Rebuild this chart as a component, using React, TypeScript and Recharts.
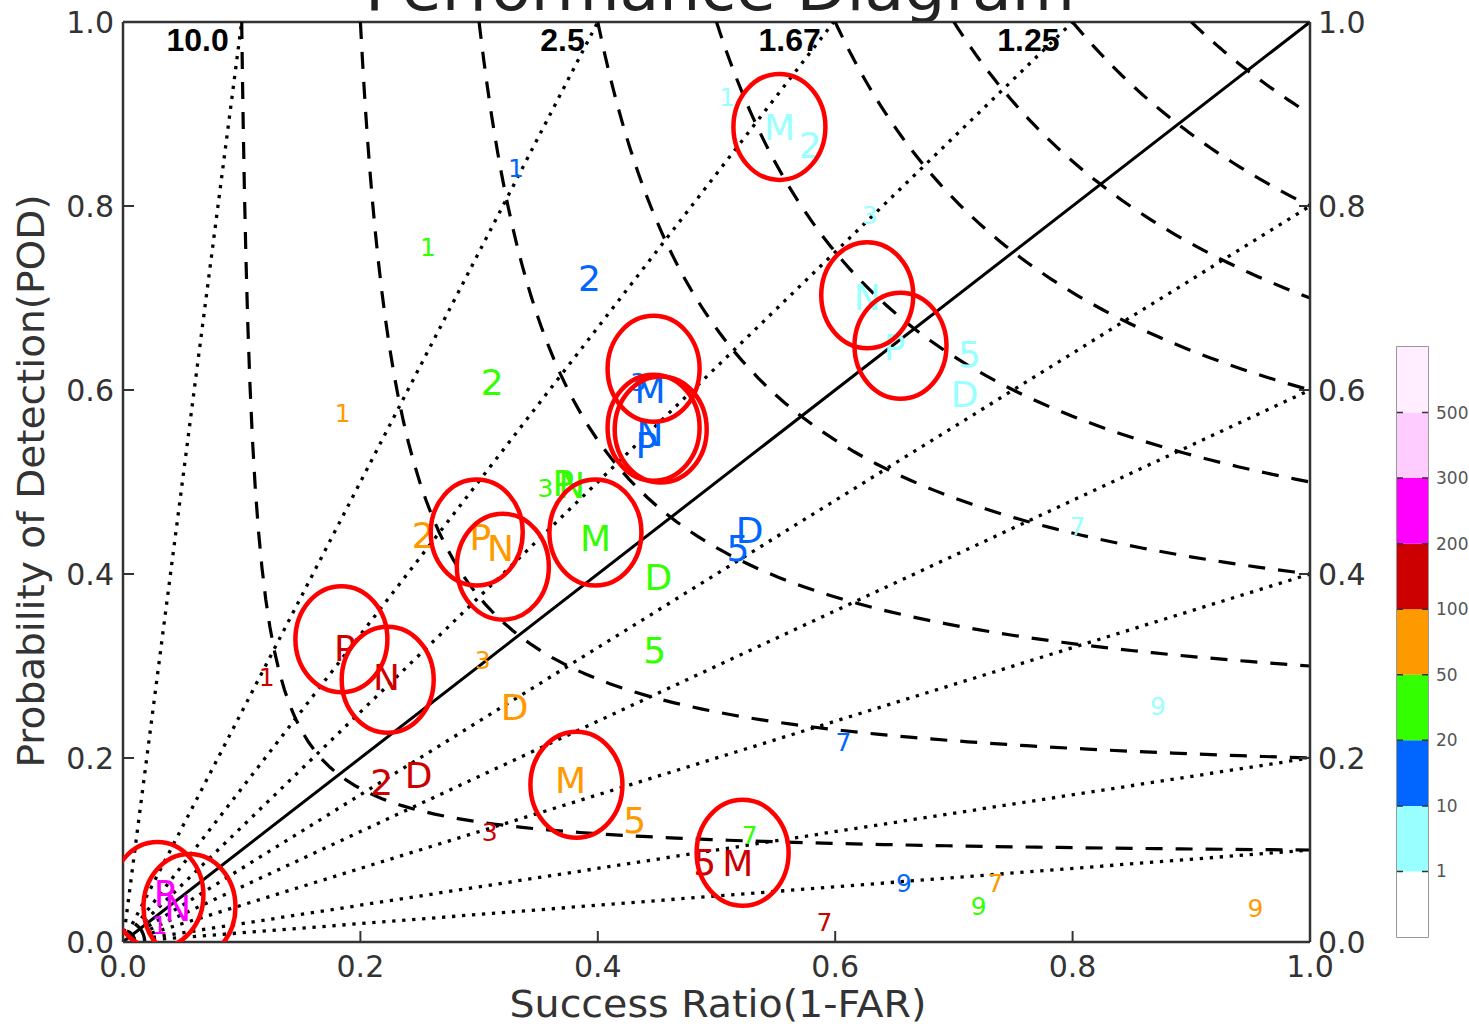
import {
    ComposedChart,
    XAxis,
    YAxis,
    Line,
    Scatter,
    ReferenceLine,
    BarChart,
    Bar,
    ReferenceArea,
} from "recharts"

type Pt = { x: number; y: number; label: string }

// x = success ratio, y = probability of detection
const cyanPoints: Pt[] = [
    { x: 0.509, y: 0.918, label: "1" },
    { x: 0.553, y: 0.886, label: "M" },
    { x: 0.579, y: 0.866, label: "2" },
    { x: 0.629, y: 0.79, label: "3" },
    { x: 0.627, y: 0.701, label: "N" },
    { x: 0.65, y: 0.647, label: "P" },
    { x: 0.713, y: 0.639, label: "5" },
    { x: 0.709, y: 0.596, label: "D" },
    { x: 0.804, y: 0.452, label: "7" },
    { x: 0.872, y: 0.257, label: "9" },
]

const bluePoints: Pt[] = [
    { x: 0.331, y: 0.841, label: "1" },
    { x: 0.393, y: 0.722, label: "2" },
    { x: 0.434, y: 0.609, label: "3" },
    { x: 0.444, y: 0.6, label: "M" },
    { x: 0.441, y: 0.54, label: "P" },
    { x: 0.444, y: 0.553, label: "N" },
    { x: 0.528, y: 0.448, label: "D" },
    { x: 0.518, y: 0.428, label: "5" },
    { x: 0.607, y: 0.217, label: "7" },
    { x: 0.658, y: 0.064, label: "9" },
]

const greenPoints: Pt[] = [
    { x: 0.257, y: 0.755, label: "1" },
    { x: 0.311, y: 0.609, label: "2" },
    { x: 0.356, y: 0.493, label: "3" },
    { x: 0.371, y: 0.499, label: "P" },
    { x: 0.378, y: 0.497, label: "N" },
    { x: 0.398, y: 0.439, label: "M" },
    { x: 0.451, y: 0.397, label: "D" },
    { x: 0.448, y: 0.317, label: "5" },
    { x: 0.528, y: 0.116, label: "7" },
    { x: 0.721, y: 0.039, label: "9" },
]

const orangePoints: Pt[] = [
    { x: 0.185, y: 0.575, label: "1" },
    { x: 0.253, y: 0.442, label: "2" },
    { x: 0.301, y: 0.44, label: "P" },
    { x: 0.318, y: 0.428, label: "N" },
    { x: 0.303, y: 0.307, label: "3" },
    { x: 0.33, y: 0.255, label: "D" },
    { x: 0.377, y: 0.176, label: "M" },
    { x: 0.431, y: 0.133, label: "5" },
    { x: 0.735, y: 0.064, label: "7" },
    { x: 0.954, y: 0.037, label: "9" },
]

const redPoints: Pt[] = [
    { x: 0.121, y: 0.288, label: "1" },
    { x: 0.187, y: 0.32, label: "P" },
    { x: 0.222, y: 0.288, label: "N" },
    { x: 0.218, y: 0.174, label: "2" },
    { x: 0.249, y: 0.182, label: "D" },
    { x: 0.309, y: 0.12, label: "3" },
    { x: 0.49, y: 0.087, label: "5" },
    { x: 0.518, y: 0.086, label: "M" },
    { x: 0.591, y: 0.022, label: "7" },
]

const magentaPoints: Pt[] = [
    { x: 0.035, y: 0.053, label: "P" },
    { x: 0.046, y: 0.037, label: "N" },
    { x: 0.031, y: 0.018, label: "1" },
]

// red circles drawn around highlighted points
const circledPoints = [
    { x: 0.553, y: 0.886 },
    { x: 0.627, y: 0.703 },
    { x: 0.655, y: 0.648 },
    { x: 0.447, y: 0.623 },
    { x: 0.447, y: 0.559 },
    { x: 0.453, y: 0.557 },
    { x: 0.298, y: 0.445 },
    { x: 0.32, y: 0.408 },
    { x: 0.398, y: 0.445 },
    { x: 0.184, y: 0.329 },
    { x: 0.223, y: 0.285 },
    { x: 0.382, y: 0.171 },
    { x: 0.522, y: 0.097 },
    { x: 0.029, y: 0.051 },
    { x: 0.056, y: 0.038 },
]

const biasRatios = [10, 2.5, 1.67, 1.25, 1, 0.8, 0.6, 0.4, 0.2, 0.1]
const biasLabels = ["10.0", "2.5", "1.67", "1.25"]
const csiLevels = [0.1, 0.2, 0.3, 0.4, 0.5, 0.6, 0.7, 0.8, 0.9]
const axisTicks = [0, 0.2, 0.4, 0.6, 0.8, 1]

const colorbarLabels = ["1", "10", "20", "50", "100", "200", "300", "500"]
const colorbarColors = ["#ffffff", "#99ffff", "#0066ff", "#33ff00", "#ff9900", "#cc0000", "#ff00ff", "#ffccff", "#ffeeff"]

const FONT = "'DejaVu Sans', sans-serif"

// bias line from the origin to where it leaves the unit square
const biasLine = (b: number) => [
    { x: 0, y: 0 },
    b >= 1 ? { x: 1 / b, y: 1 } : { x: 1, y: b },
]

// critical success index isoline: 1/CSI = 1/SR + 1/POD - 1
const csiLine = (c: number) =>
    Array.from({ length: 81 }, (_, i) => {
        const t = i / 80
        const sr = c + (1 - c) * t * t
        return { x: sr, y: 1 / (1 / c + 1 - 1 / sr) }
    })

const smallLabels = ["1", "3", "7", "9"]

const markerShape = (color: string) => (props: any) => {
    const { cx, cy, payload } = props
    const fs = smallLabels.includes(payload.label) ? 25 : 36
    return (
        <text x={cx} y={cy + fs * 0.36} textAnchor="middle" fontSize={fs} fill={color} fontFamily={FONT}>
            {payload.label}
        </text>
    )
}

const circleShape = (props: any) => (
    <ellipse cx={props.cx} cy={props.cy} rx={46} ry={53} fill="none" stroke="#ff0000" strokeWidth={4.5} />
)

const biasLabelShape = (props: any) => (
    <text
        x={props.cx - 13}
        y={props.cy + 29}
        textAnchor="end"
        fontSize={32}
        fontWeight="bold"
        fill="#000"
        fontFamily="'Liberation Sans', Arial, sans-serif"
    >
        {props.payload.label}
    </text>
)

const inner = (v: number) => v > 0 && v < 1

const LeftTick = (p: any) => (
    <g>
        {inner(p.payload.value) && <line x1={p.x} y1={p.y} x2={p.x + 11} y2={p.y} stroke="#333" strokeWidth={2} />}
        <text x={p.x - 9} y={p.y + 11} textAnchor="end" fontSize={30} fill="#333" fontFamily={FONT}>
            {p.payload.value.toFixed(1)}
        </text>
    </g>
)

const RightTick = (p: any) => (
    <g>
        {inner(p.payload.value) && <line x1={p.x} y1={p.y} x2={p.x - 11} y2={p.y} stroke="#333" strokeWidth={2} />}
        <text x={p.x + 8} y={p.y + 11} textAnchor="start" fontSize={30} fill="#333" fontFamily={FONT}>
            {p.payload.value.toFixed(1)}
        </text>
    </g>
)

const BottomTick = (p: any) => (
    <g>
        {inner(p.payload.value) && <line x1={p.x} y1={p.y} x2={p.x} y2={p.y - 11} stroke="#333" strokeWidth={2} />}
        <text x={p.x} y={p.y + 35} textAnchor="middle" fontSize={30} fill="#333" fontFamily={FONT}>
            {p.payload.value.toFixed(1)}
        </text>
    </g>
)

const series: [Pt[], string][] = [
    [cyanPoints, "#99ffff"],
    [bluePoints, "#0066ff"],
    [greenPoints, "#33ff00"],
    [orangePoints, "#ff9900"],
    [redPoints, "#cc0000"],
    [magentaPoints, "#ff00ff"],
]

const colorbarRow = [
    colorbarColors.reduce((row, _, i) => ({ ...row, [`s${i}`]: 1 }), { name: "cb" } as Record<string, any>),
]

export default function App() {
    return (
        <div style={{ position: "absolute", left: 0, top: 0, width: 1469, height: 1027, background: "#fff" }}>
            <svg width={1469} height={1027} style={{ position: "absolute", left: 0, top: 0 }}>
                <text x={720} y={10} textAnchor="middle" fontSize={62} fill="#222" fontFamily={FONT} textLength={710} lengthAdjust="spacingAndGlyphs">
                    Performance Diagram
                </text>
                <text x={718} y={1017} textAnchor="middle" fontSize={37} fill="#333" fontFamily={FONT} textLength={417} lengthAdjust="spacingAndGlyphs">
                    Success Ratio(1-FAR)
                </text>
                <text
                    x={44}
                    y={481}
                    transform="rotate(-90 44 481)"
                    textAnchor="middle"
                    fontSize={38}
                    fill="#333"
                    fontFamily={FONT}
                    textLength={573}
                    lengthAdjust="spacingAndGlyphs"
                >
                    Probability of Detection(POD)
                </text>
            </svg>

            <div style={{ position: "absolute", left: 0, top: 0 }}>
                <ComposedChart width={1469} height={1027} margin={{ top: 22, right: 99, bottom: 45, left: 63 }}>
                    <XAxis
                        type="number"
                        dataKey="x"
                        domain={[0, 1]}
                        ticks={axisTicks}
                        interval={0}
                        height={40}
                        tickSize={0}
                        tickMargin={0}
                        tick={BottomTick}
                        allowDataOverflow
                        axisLine={{ stroke: "#333", strokeWidth: 2.5 }}
                    />
                    <YAxis
                        yAxisId="l"
                        type="number"
                        dataKey="y"
                        domain={[0, 1]}
                        ticks={axisTicks}
                        interval={0}
                        width={60}
                        tickSize={0}
                        tickMargin={0}
                        tick={LeftTick}
                        allowDataOverflow
                        axisLine={{ stroke: "#333", strokeWidth: 2.5 }}
                    />
                    <YAxis
                        yAxisId="r"
                        orientation="right"
                        type="number"
                        dataKey="y"
                        domain={[0, 1]}
                        ticks={axisTicks}
                        interval={0}
                        width={60}
                        tickSize={0}
                        tickMargin={0}
                        tick={RightTick}
                        allowDataOverflow
                        axisLine={{ stroke: "#333", strokeWidth: 2.5 }}
                    />
                    <ReferenceLine yAxisId="l" y={1} stroke="#333" strokeWidth={2.5} />

                    {csiLevels.map((c) => (
                        <Line
                            key={`csi-${c}`}
                            yAxisId="l"
                            data={csiLine(c)}
                            dataKey="y"
                            type="linear"
                            dot={false}
                            stroke="#000"
                            strokeWidth={3.2}
                            strokeDasharray="17 13"
                            isAnimationActive={false}
                        />
                    ))}

                    {biasRatios.map((b) => (
                        <Line
                            key={`bias-${b}`}
                            yAxisId="r"
                            data={biasLine(b)}
                            dataKey="y"
                            type="linear"
                            dot={false}
                            stroke="#000"
                            strokeWidth={b === 1 ? 3 : 3.3}
                            strokeDasharray={b === 1 ? undefined : "3.3 6.7"}
                            isAnimationActive={false}
                        />
                    ))}

                    <Scatter
                        yAxisId="l"
                        data={biasLabels.map((label, i) => ({ x: 1 / biasRatios[i], y: 1, label }))}
                        shape={biasLabelShape}
                        isAnimationActive={false}
                    />

                    {series.map(([pts, color]) => (
                        <Scatter
                            key={color}
                            yAxisId="l"
                            data={pts}
                            shape={markerShape(color)}
                            isAnimationActive={false}
                        />
                    ))}

                    <Scatter yAxisId="l" data={circledPoints} shape={circleShape} isAnimationActive={false} />
                </ComposedChart>
            </div>

            <div style={{ position: "absolute", left: 1390, top: 340 }}>
                <BarChart width={79} height={604} data={colorbarRow} margin={{ top: 7, right: 0, bottom: 7, left: 7 }} barCategoryGap={0}>
                    <XAxis dataKey="name" hide />
                    <YAxis
                        orientation="right"
                        type="number"
                        domain={[0, 9]}
                        ticks={[1, 2, 3, 4, 5, 6, 7, 8]}
                        interval={0}
                        width={41}
                        axisLine={false}
                        tickLine={false}
                        tickFormatter={(v) => colorbarLabels[v - 1]}
                        tick={{ fontSize: 17, fill: "#555", fontFamily: FONT }}
                    />
                    {colorbarColors.map((c, i) => (
                        <Bar key={c} dataKey={`s${i}`} stackId="cb" fill={c} isAnimationActive={false} />
                    ))}
                    {colorbarLabels.map((l, i) => (
                        <ReferenceLine key={l} y={i + 1} stroke="#333" strokeWidth={1.5} strokeDasharray="6 19 6" />
                    ))}
                    <ReferenceArea y1={0} y2={9} fill="none" stroke="#777" strokeWidth={1.5} />
                </BarChart>
            </div>
        </div>
    )
}
